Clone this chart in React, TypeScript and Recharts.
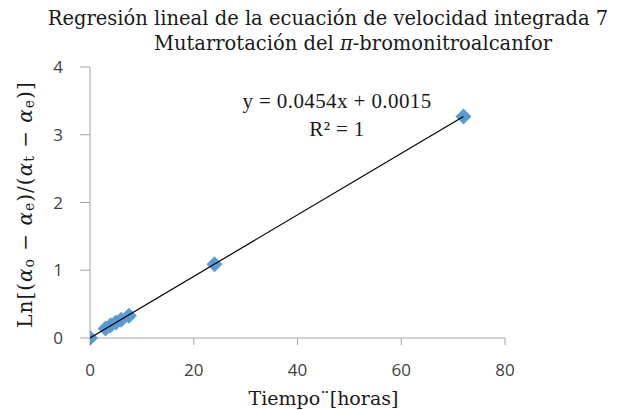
import React from 'react';
import { ScatterChart, Scatter, XAxis, YAxis, Label } from 'recharts';

const times = [0, 3, 4, 5, 6, 7.5, 24, 72];
const lnValues = [0, 0.14, 0.19, 0.23, 0.27, 0.33, 1.09, 3.27];
const xTicks = [0, 20, 40, 60, 80];
const yTicks = [0, 1, 2, 3, 4];
const slope = 0.0454;
const intercept = 0.0015;
const trendX = [0, 72];

const points = times.map((t, i) => ({ x: t, y: lnValues[i] }));
const trend = trendX.map((t) => ({ x: t, y: slope * t + intercept }));

const Diamond = (props: any) => {
  const { cx, cy } = props;
  const r = 8;
  return (
    <polygon
      points={`${cx},${cy - r} ${cx + r},${cy} ${cx},${cy + r} ${cx - r},${cy}`}
      fill="#5B9BD5"
    />
  );
};

const NoShape = () => null;

const YLabel = (props: any) => {
  const vb = props.viewBox;
  const cx = vb.x - 5;
  const cy = vb.y + vb.height / 2 + 2;
  return (
    <text
      x={cx}
      y={cy}
      transform={`rotate(-90, ${cx}, ${cy})`}
      textAnchor="middle"
      dominantBaseline="central"
      fontFamily="'DejaVu Serif', serif"
      fontSize={20}
      letterSpacing={1}
      fill="#1a1a1a"
    >
      <tspan>Ln[(</tspan>
      <tspan fontStyle="italic">α</tspan>
      <tspan fontSize={14} dy={4}>o</tspan>
      <tspan dy={-4}> − </tspan>
      <tspan fontStyle="italic">α</tspan>
      <tspan fontSize={14} dy={4}>e</tspan>
      <tspan dy={-4}>)/(</tspan>
      <tspan fontStyle="italic">α</tspan>
      <tspan fontSize={14} dy={4}>t</tspan>
      <tspan dy={-4}> − </tspan>
      <tspan fontStyle="italic">α</tspan>
      <tspan fontSize={14} dy={4}>e</tspan>
      <tspan dy={-4}>)]</tspan>
    </text>
  );
};

const XLabel = (props: any) => {
  const vb = props.viewBox;
  const cx = vb.x + vb.width / 2 + 26;
  return (
    <text
      x={cx}
      y={405}
      textAnchor="middle"
      fontFamily="'DejaVu Serif', serif"
      fontSize={19}
      fill="#1a1a1a"
    >
      Tiempo¨[horas]
    </text>
  );
};

export default function App() {
  const tickStyle = { fontFamily: "'Open Sans', sans-serif", fontSize: 17, fill: '#404040' };
  const titleStyle: React.CSSProperties = {
    position: 'absolute',
    left: 0,
    textAlign: 'center',
    fontFamily: "'DejaVu Serif', serif",
    fontSize: 19.5,
    color: '#1a1a1a',
    whiteSpace: 'nowrap',
    lineHeight: '25px',
  };
  return (
    <div style={{ position: 'absolute', left: 0, top: 0, width: 627, height: 410, background: '#fff' }}>
      <div style={{ ...titleStyle, width: 656, top: 6 }}>
        Regresión lineal de la ecuación de velocidad integrada 7
      </div>
      <div style={{ ...titleStyle, width: 706, top: 31 }}>
        Mutarrotación del <i>π</i>-bromonitroalcanfor
      </div>
      <ScatterChart width={627} height={410} margin={{ top: 67, right: 122, left: 30, bottom: 32 }}>
        <XAxis
          type="number"
          dataKey="x"
          domain={[0, 80]}
          ticks={xTicks}
          tickSize={7}
          tickMargin={19}
          height={40}
          stroke="#A6A6A6"
          tick={tickStyle}
          allowDataOverflow
        >
          <Label content={<XLabel />} />
        </XAxis>
        <YAxis
          type="number"
          dataKey="y"
          domain={[0, 4]}
          ticks={yTicks}
          tickSize={10}
          tickMargin={17}
          width={60}
          stroke="#A6A6A6"
          tick={tickStyle}
        >
          <Label content={<YLabel />} />
        </YAxis>
        <Scatter data={points} shape={<Diamond />} isAnimationActive={false} />
        <Scatter
          data={trend}
          line={{ stroke: '#000', strokeWidth: 1.2 }}
          lineType="joint"
          shape={<NoShape />}
          isAnimationActive={false}
        />
      </ScatterChart>
      <div
        style={{
          position: 'absolute',
          left: 237,
          width: 200,
          top: 87,
          textAlign: 'center',
          fontFamily: "'Liberation Serif', serif",
          fontSize: 21,
          letterSpacing: 0.4,
          color: '#1a1a1a',
          whiteSpace: 'nowrap',
          lineHeight: '28px',
        }}
      >
        <div>y = 0.0454x + 0.0015</div>
        <div>R² = 1</div>
      </div>
    </div>
  );
}
